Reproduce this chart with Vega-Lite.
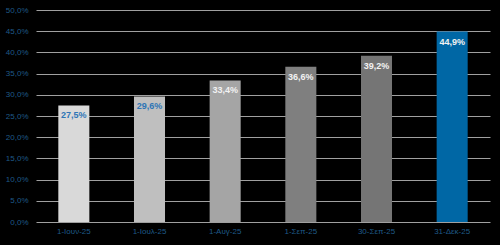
{
  "$schema": "https://vega.github.io/schema/vega-lite/v6.json",
  "width": 454,
  "height": 212,
  "autosize": {"type": "none"},
  "padding": {"left": 36, "top": 10, "right": 10, "bottom": 23},
  "background": "#000000",
  "config": {
    "view": {"stroke": null},
    "font": "Liberation Sans",
    "locale": {"number": {"decimal": ",", "thousands": ".", "grouping": [3], "currency": ["", " €"]}}
  },
  "data": {
    "values": [
      {"date": "1-Ιουν-25", "value": 0.275},
      {"date": "1-Ιουλ-25", "value": 0.296},
      {"date": "1-Αυγ-25", "value": 0.334},
      {"date": "1-Σεπ-25", "value": 0.366},
      {"date": "30-Σεπ-25", "value": 0.392},
      {"date": "31-Δεκ-25", "value": 0.449}
    ]
  },
  "encoding": {
    "x": {
      "field": "date", "type": "nominal", "sort": null,
      "scale": {"paddingInner": 0.59, "paddingOuter": 0.295},
      "axis": {"title": null, "labelAngle": 0, "domain": false, "ticks": false, "labelColor": "#1f5a88", "labelFontSize": 8, "labelPadding": 5}
    },
    "y": {
      "field": "value", "type": "quantitative",
      "scale": {"domain": [0, 0.5], "nice": false},
      "axis": {"title": null, "format": ".1%", "values": [0,0.05,0.1,0.15,0.2,0.25,0.3,0.35,0.4,0.45,0.5], "labelOverlap": false, "labelSeparation": 0, "domain": false, "ticks": false, "gridColor": "#a0a0a0", "gridWidth": 1, "labelColor": "#1f5a88", "labelFontSize": 8, "labelPadding": 8}
    }
  },
  "layer": [
    {
      "mark": {"type": "bar"},
      "encoding": {
        "color": {
          "field": "date", "type": "nominal", "sort": null, "legend": null,
          "scale": {"domain": ["1-Ιουν-25","1-Ιουλ-25","1-Αυγ-25","1-Σεπ-25","30-Σεπ-25","31-Δεκ-25"], "range": ["#d9d9d9","#bfbfbf","#a5a5a5","#7f7f7f","#757575","#0067a5"]}
        }
      }
    },
    {
      "mark": {"type": "text", "baseline": "middle", "dy": 10, "fontSize": 9, "fontWeight": "bold"},
      "encoding": {
        "text": {"field": "value", "type": "quantitative", "format": ".1%"},
        "color": {
          "field": "date", "type": "nominal", "sort": null, "legend": null,
          "scale": {"domain": ["1-Ιουν-25","1-Ιουλ-25","1-Αυγ-25","1-Σεπ-25","30-Σεπ-25","31-Δεκ-25"], "range": ["#2e75b6","#2e75b6","#f2f2f2","#f2f2f2","#f2f2f2","#f2f2f2"]}
        }
      }
    }
  ],
  "resolve": {"scale": {"color": "independent"}}
}
